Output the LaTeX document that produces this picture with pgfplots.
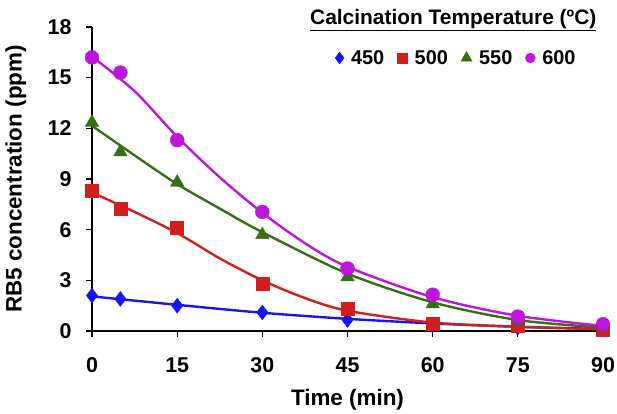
\documentclass[border=0pt]{standalone}
\usepackage{pgfplots}
\pgfplotsset{compat=1.18}
\usepackage{fontspec}
\setmainfont{Liberation Sans}
\usetikzlibrary{plotmarks}
\definecolor{c450}{RGB}{20,20,245}
\definecolor{c500}{RGB}{210,30,30}
\definecolor{c550}{RGB}{55,110,20}
\definecolor{c600}{RGB}{190,20,220}
\begin{document}
\begin{tikzpicture}[x=1bp,y=1bp]
\begin{axis}[
  scale only axis, width=511bp, height=304bp,
  xmin=0, xmax=90, ymin=0, ymax=18,
  axis lines*=left,
  axis line style={line width=1.4pt},
  xtick={0,15,...,90}, ytick={0,3,...,18},
  tick style={black, line width=1.3pt},
  tick align=outside, major tick length=6bp,
  clip=false,
  font=\bfseries\fontsize{22}{25}\selectfont,
  tick label style={font=\bfseries\fontsize{21.5}{24}\selectfont},
  /pgf/number format/assume math mode=true,
  xticklabel style={yshift=-17bp},
  yticklabel style={xshift=-11bp},
  xlabel={Time (min)}, ylabel={RB5 concentration (ppm)},
  xlabel style={at={(axis description cs:0.5,-0.227)}, anchor=center, font=\bfseries\fontsize{22.5}{25}\selectfont},
  ylabel style={at={(axis description cs:-0.149,0.5)}, anchor=center, font=\bfseries\fontsize{22.5}{25}\selectfont},
  legend columns=4,
  legend image code/.code={\draw[#1] plot coordinates {(0.15cm,0cm)};},
  legend style={draw=none, fill=none, at={(axis description cs:0.713,0.898)}, anchor=center,
    font=\bfseries\fontsize{20}{22}\selectfont,
    /tikz/every odd column/.append style={column sep=5bp},
    /tikz/every even column/.append style={column sep=11bp}},
  legend cell align=left,
]
\addlegendimage{draw=none, mark=diamond*, mark size=6pt, color=c450}
\addlegendentry{450}
\addlegendimage{draw=none, mark=square*, mark size=5.2pt, color=c500, mark options={rounded corners=1.5pt}}
\addlegendentry{500}
\addlegendimage{draw=none, mark=triangle*, mark size=6.5pt, color=c550}
\addlegendentry{550}
\addlegendimage{draw=none, mark=*, mark size=5pt, color=c600}
\addlegendentry{600}
% trendlines
\addplot[no marks, smooth, line width=2.4pt, color=c450, forget plot] coordinates {(0,2.05)(15,1.55)(30,1.08)(45,0.72)(60,0.45)(75,0.25)(90,0.12)};
\addplot[no marks, smooth, line width=2.4pt, color=c500, forget plot] coordinates {(0,8.2)(7.5,7.05)(15,5.8)(22.5,4.3)(30,3.0)(37.5,1.95)(45,1.2)(60,0.5)(75,0.25)(90,0.1)};
\addplot[no marks, smooth, line width=2.4pt, color=c550, forget plot] coordinates {(0,12.15)(7.5,10.4)(15,8.7)(22.5,7.25)(30,5.85)(45,3.4)(60,1.7)(75,0.65)(90,0.2)};
\addplot[no marks, smooth, line width=2.4pt, color=c600, forget plot] coordinates {(0,16.25)(7.5,14.2)(15,11.5)(22.5,9.1)(30,7.0)(37.5,5.2)(45,3.8)(60,2.0)(75,0.9)(90,0.3)};
% data points
\addplot[only marks, mark=diamond*, mark size=7.5pt, color=c450, forget plot] coordinates {(0,2.1)(5,1.9)(15,1.5)(30,1.1)(45,0.65)(60,0.35)(75,0.2)(90,0.1)};
\addplot[only marks, mark=square*, mark size=6.5pt, color=c500, mark options={rounded corners=2pt}, forget plot] coordinates {(0,8.3)(5,7.25)(15,6.1)(30,2.8)(45,1.3)(60,0.45)(75,0.3)(90,0.1)};
\addplot[only marks, mark=triangle*, mark size=7.8pt, color=c550, mark options={rounded corners=2pt}, forget plot] coordinates {(0,12.35)(5,10.6)(15,8.8)(30,5.7)(45,3.2)(60,1.6)(75,0.6)(90,0.2)};
\addplot[only marks, mark=*, mark size=7pt, color=c600, forget plot] coordinates {(0,16.2)(5,15.3)(15,11.3)(30,7.05)(45,3.7)(60,2.15)(75,0.85)(90,0.4)};
\node[anchor=center, font=\bfseries\fontsize{21}{24}\selectfont, inner sep=0pt] at (axis description cs:0.707,1.023) {\underline{Calcination Temperature (ºC)}};
\coordinate (bl) at (rel axis cs:0,0);
\coordinate (tr) at (rel axis cs:1,1);
\end{axis}
\pgfresetboundingbox
\path ([xshift=-92bp,yshift=-82bp]bl) rectangle ([xshift=14bp,yshift=27bp]tr);
\end{tikzpicture}
\end{document}
